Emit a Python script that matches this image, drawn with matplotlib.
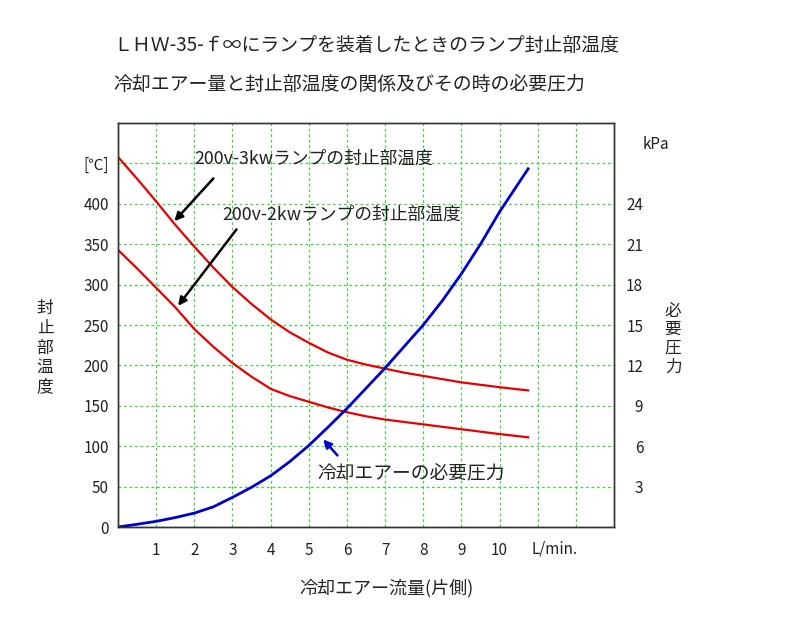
import matplotlib
matplotlib.use("Agg")
import matplotlib.pyplot as plt

plt.rcParams['font.family'] = ['Noto Sans CJK JP', 'DejaVu Sans']

# flow rate (L/min, one side)
flow = [0, 0.5, 1, 1.5, 2, 2.5, 3, 3.5, 4, 4.5, 5, 5.5, 6, 6.5, 7, 7.5, 8, 8.5, 9, 9.5, 10, 10.75]

# seal temperature for the 3kw and 2kw lamps (deg C)
temp_3kw = [458, 431, 403, 374, 347, 321, 297, 276, 257, 241, 228, 216, 207, 201, 196, 191, 187, 183, 179, 176, 173, 169]
temp_2kw = [343, 320, 296, 272, 245, 223, 203, 186, 171, 162, 155, 148, 142, 137, 133, 130, 127, 124, 121, 118, 115, 111]

# required air pressure (kPa)
pressure = [0, 0.2, 0.42, 0.7, 1.03, 1.5, 2.2, 2.95, 3.8, 4.85, 6.05, 7.4, 8.8, 10.3, 11.8, 13.4, 15.0, 16.8, 18.8, 21.0, 23.4, 26.6]

x_ticks = [1, 2, 3, 4, 5, 6, 7, 8, 9, 10]
y_ticks = [0, 50, 100, 150, 200, 250, 300, 350, 400, 450]
y_labels = ['0', '50', '100', '150', '200', '250', '300', '350', '400', '[℃]']
kpa_ticks = [3, 6, 9, 12, 15, 18, 21, 24]

fig = plt.figure(figsize=(8, 6.34), dpi=100)
ax = fig.add_axes([118 / 800, 107 / 634, 496 / 800, 404 / 634])

ax.plot(flow, temp_3kw, color='#e60000', lw=1.6)
ax.plot(flow, temp_2kw, color='#e60000', lw=1.6)

ax.set_xlim(0, 13)
ax.set_ylim(0, 500)

# grid lines at every unit, labels only up to 10
ax.set_xticks(range(1, 13))
ax.set_xticklabels([str(v) if v in x_ticks else '' for v in range(1, 13)])
ax.set_yticks(y_ticks)
ax.set_yticklabels(y_labels)
ax.grid(True, color='#44d044', linestyle=(0, (2.2, 2.2)), lw=0.9)
ax.tick_params(axis='x', length=0, pad=11, labelsize=11, colors='#222222')
ax.tick_params(axis='y', length=0, pad=6.5, labelsize=11, colors='#222222')
ax.text(11.45, -27, 'L/min.', ha='center', va='center', fontsize=11, color='#222222')

ax2 = ax.twinx()
ax2.plot(flow, pressure, color='#0000cc', lw=2)
ax2.set_ylim(0, 30)
ax2.set_yticks(kpa_ticks)
ax2.set_yticklabels([str(v) for v in kpa_ticks], ha='right')
ax2.tick_params(axis='y', length=0, pad=21, labelsize=11, colors='#222222')
ax2.text(13.75, 28.4, 'kPa', ha='left', va='center', fontsize=11, color='#222222')

for a in (ax, ax2):
    for s in a.spines.values():
        s.set_color('#333333')
        s.set_linewidth(1)

# callouts
ax.annotate('', xy=(1.43, 376), xytext=(2.55, 434),
            arrowprops=dict(arrowstyle='-|>', color='black', lw=1.8, mutation_scale=12))
ax.annotate('', xy=(1.53, 271), xytext=(3.15, 371),
            arrowprops=dict(arrowstyle='-|>', color='black', lw=1.8, mutation_scale=12))
ax.annotate('', xy=(5.33, 111), xytext=(5.80, 86),
            arrowprops=dict(arrowstyle='-|>', color='#0000cc', lw=1.8, mutation_scale=12))
ax.text(2.0, 456, '200v-3kwランプの封止部温度', fontsize=12.8, va='center', color='#222222')
ax.text(2.74, 387, '200v-2kwランプの封止部温度', fontsize=12.8, va='center', color='#222222')
ax.text(5.22, 67, '冷却エアーの必要圧力', fontsize=13.5, va='center', color='#222222')

# titles and axis names
fig.text(113 / 800, 1 - 45 / 634, 'ＬＨＷ-35-ｆ∞にランプを装着したときのランプ封止部温度',
         fontsize=13.6, va='center', color='#222222')
fig.text(113 / 800, 1 - 84 / 634, '冷却エアー量と封止部温度の関係及びその時の必要圧力',
         fontsize=13.6, va='center', color='#222222')
fig.text(45 / 800, 1 - 348 / 634, '封\n止\n部\n温\n度', fontsize=12, ha='center', va='center',
         linespacing=1.2, color='#222222')
fig.text(673 / 800, 1 - 339 / 634, '必\n要\n圧\n力', fontsize=12, ha='center', va='center',
         linespacing=1.12, color='#222222')
fig.text(386 / 800, 1 - 588 / 634, '冷却エアー流量(片側)', fontsize=13, ha='center', va='center',
         color='#222222')

plt.savefig('out.png', dpi=100)
